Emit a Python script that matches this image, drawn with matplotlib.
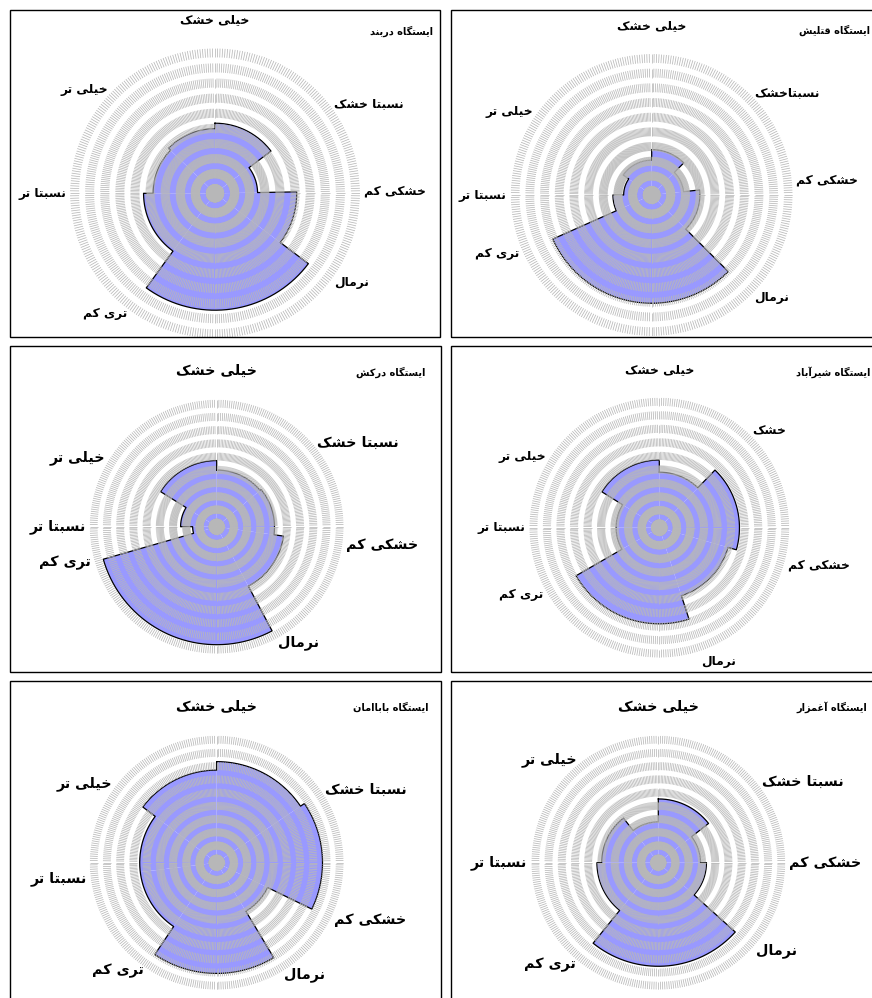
import numpy as np
import matplotlib
matplotlib.use("Agg")
import matplotlib.pyplot as plt
from matplotlib.patches import Rectangle

plt.rcParams['font.family'] = ['DejaVu Sans']

# drought classes, clockwise from the top
categories = ["خیلی خشک", "نسبتا خشک", "خشکی کم", "نرمال", "تری کم", "نسبتا تر", "خیلی تر"]

stations = ["ایستگاه دربند", "ایستگاه قتلیش", "ایستگاه درکش",
            "ایستگاه شیرآباد", "ایستگاه باباامان", "ایستگاه آغمزار"]

# labels as written in each panel (two panels spell one class differently)
labels_darband = categories
labels_qatlish = ["خیلی خشک", "نسبتاخشک", "خشکی کم", "نرمال", "تری کم", "نسبتا تر", "خیلی تر"]
labels_darkesh = categories
labels_shirabad = ["خیلی خشک", "خشک", "خشکی کم", "نرمال", "تری کم", "نسبتا تر", "خیلی تر"]
labels_babaaman = categories
labels_aghmazar = categories

# start angle of each class sector (degrees, clockwise from north)
start_darband = [0, 53, 89, 127, 216, 270, 314]
start_qatlish = [0, 45, 84, 135, 246, 270, 305]
start_darkesh = [0, 50, 98, 152, 254, 270, 302]
start_shirabad = [0, 44, 106, 162, 240, 270, 302]
start_babaaman = [0, 56, 116, 149, 214, 263, 307]
start_aghmazar = [0, 52, 90, 132, 219, 270, 322]

# sector length (radial value) for each class
value_darband = [4.64, 2.82, 5.41, 7.74, 4.73, 4.1, 4.28]
value_qatlish = [3.09, 2.18, 3.28, 7.37, 2.64, 1.91, 2.37]
value_darkesh = [4.28, 4.37, 5.1, 8.92, 1.82, 2.73, 5.0]
value_shirabad = [4.1, 5.92, 5.28, 7.1, 3.19, 3.19, 5.0]
value_babaaman = [7.64, 8.0, 4.28, 8.37, 5.82, 5.82, 7.0]
value_aghmazar = [4.82, 3.19, 3.64, 7.83, 4.64, 4.28, 3.09]

W, H = 872, 998
N_BANDS = 10
DASH = 0.6
RMAX = N_BANDS - 1 + DASH

fig = plt.figure(figsize=(W / 100, H / 100), dpi=100)

# panel layout in pixels: centre x, centre y, outer radius, label size, frame box, title pos
panels = [
    (215.0, 193.3, 145, 8.8, (10, 10, 440, 337), (433, 31)),
    (651.7, 195.0, 141, 8.8, (451, 10, 890, 337), (870, 30)),
    (216.7, 526.7, 127, 10.3, (10, 346, 441, 672), (425, 372)),
    (659.3, 527.7, 130, 8.8, (451, 346, 890, 672), (870, 372)),
    (216.7, 862.7, 127, 10.3, (10, 681, 441, 1010), (428, 707)),
    (658.3, 862.7, 127, 10.3, (451, 681, 890, 1010), (867, 707)),
]

all_labels = [labels_darband, labels_qatlish, labels_darkesh,
              labels_shirabad, labels_babaaman, labels_aghmazar]
all_starts = [start_darband, start_qatlish, start_darkesh,
              start_shirabad, start_babaaman, start_aghmazar]
all_values = [value_darband, value_qatlish, value_darkesh,
              value_shirabad, value_babaaman, value_aghmazar]

# --- minimal arabic/persian shaping (matplotlib has no text shaping) ---
FORMS = {
    'ا': ('\uFE8D', '\uFE8E', None, None),
    'آ': ('\uFE81', '\uFE82', None, None),
    'د': ('\uFEA9', '\uFEAA', None, None),
    'ر': ('\uFEAD', '\uFEAE', None, None),
    'ز': ('\uFEAF', '\uFEB0', None, None),
    'ب': ('\uFE8F', '\uFE90', '\uFE91', '\uFE92'),
    'ت': ('\uFE95', '\uFE96', '\uFE97', '\uFE98'),
    'خ': ('\uFEA5', '\uFEA6', '\uFEA7', '\uFEA8'),
    'س': ('\uFEB1', '\uFEB2', '\uFEB3', '\uFEB4'),
    'ش': ('\uFEB5', '\uFEB6', '\uFEB7', '\uFEB8'),
    'غ': ('\uFECD', '\uFECE', '\uFECF', '\uFED0'),
    'ق': ('\uFED5', '\uFED6', '\uFED7', '\uFED8'),
    'ل': ('\uFEDD', '\uFEDE', '\uFEDF', '\uFEE0'),
    'م': ('\uFEE1', '\uFEE2', '\uFEE3', '\uFEE4'),
    'ن': ('\uFEE5', '\uFEE6', '\uFEE7', '\uFEE8'),
    'ه': ('\uFEE9', '\uFEEA', '\uFEEB', '\uFEEC'),
    'ک': ('\uFB8E', '\uFB8F', '\uFB90', '\uFB91'),
    'گ': ('\uFB92', '\uFB93', '\uFB94', '\uFB95'),
    'ی': ('\uFBFC', '\uFBFD', '\uFBFE', '\uFBFF'),
}


def shape(text):
    out = []
    for i, c in enumerate(text):
        if c not in FORMS:
            out.append(c)
            continue
        prev = text[i - 1] if i > 0 else ' '
        nxt = text[i + 1] if i + 1 < len(text) else ' '
        iso, fin, ini, med = FORMS[c]
        join_prev = prev in FORMS and FORMS[prev][2] is not None
        join_next = ini is not None and nxt in FORMS
        if join_prev and join_next:
            out.append(med)
        elif join_prev:
            out.append(fin)
        elif join_next:
            out.append(ini)
        else:
            out.append(iso)
    return ''.join(reversed(out))


spokes = np.radians(np.arange(0, 360, 1.0))

for p, (cx, cy, R, fs, box, tpos) in enumerate(panels):
    x0, y0, x1, y1 = box
    fig.add_artist(Rectangle((x0 / W, 1 - y1 / H), (x1 - x0) / W, (y1 - y0) / H,
                             transform=fig.transFigure, fill=False,
                             edgecolor='black', lw=1.0))
    fig.text(tpos[0] / W, 1 - tpos[1] / H, shape(stations[p]), ha='right', va='center',
             fontsize=7, fontweight='bold')

    ax = fig.add_axes([(cx - R) / W, 1 - (cy + R) / H, 2 * R / W, 2 * R / H],
                      projection='polar')
    ax.set_theta_zero_location('N')
    ax.set_theta_direction(-1)
    ax.set_ylim(0, RMAX)
    ax.set_axis_off()

    starts = np.array(all_starts[p], dtype=float)
    ends = np.append(starts[1:], 360.0)
    vals = np.array(all_values[p])

    ax.bar(np.radians(starts), vals, width=np.radians(ends - starts), align='edge',
           color='#9999ff', edgecolor='none', zorder=1)

    # outline of the whole shape
    th, rr = [], []
    for s, e, v in zip(starts, ends, vals):
        t = np.linspace(s, e, int(e - s) * 2 + 2)
        th.extend(np.radians(t))
        rr.extend([v] * len(t))
    th.append(th[0])
    rr.append(rr[0])
    ax.plot(th, rr, color='black', lw=0.9, zorder=2)

    # dashed radial spokes make the ring pattern
    for k in range(N_BANDS):
        ax.vlines(spokes, k, k + DASH, colors='#b8b8b8', lw=0.55, zorder=3)

    # class labels
    unit = R / RMAX
    for lab, a in zip(all_labels[p], starts):
        s, c = np.sin(np.radians(a)), np.cos(np.radians(a))
        ha = 'left' if s > 0.2 else ('right' if s < -0.2 else 'center')
        va = 'bottom' if c > 0.9 else ('top' if c < -0.9 else 'center')
        off = 22 if (ha == 'center' and va == 'bottom') else 4
        ax.text(np.radians(a), RMAX + off / unit, shape(lab), ha=ha, va=va,
                fontsize=fs, fontweight='bold', clip_on=False)

fig.savefig('out.png', dpi=100)
